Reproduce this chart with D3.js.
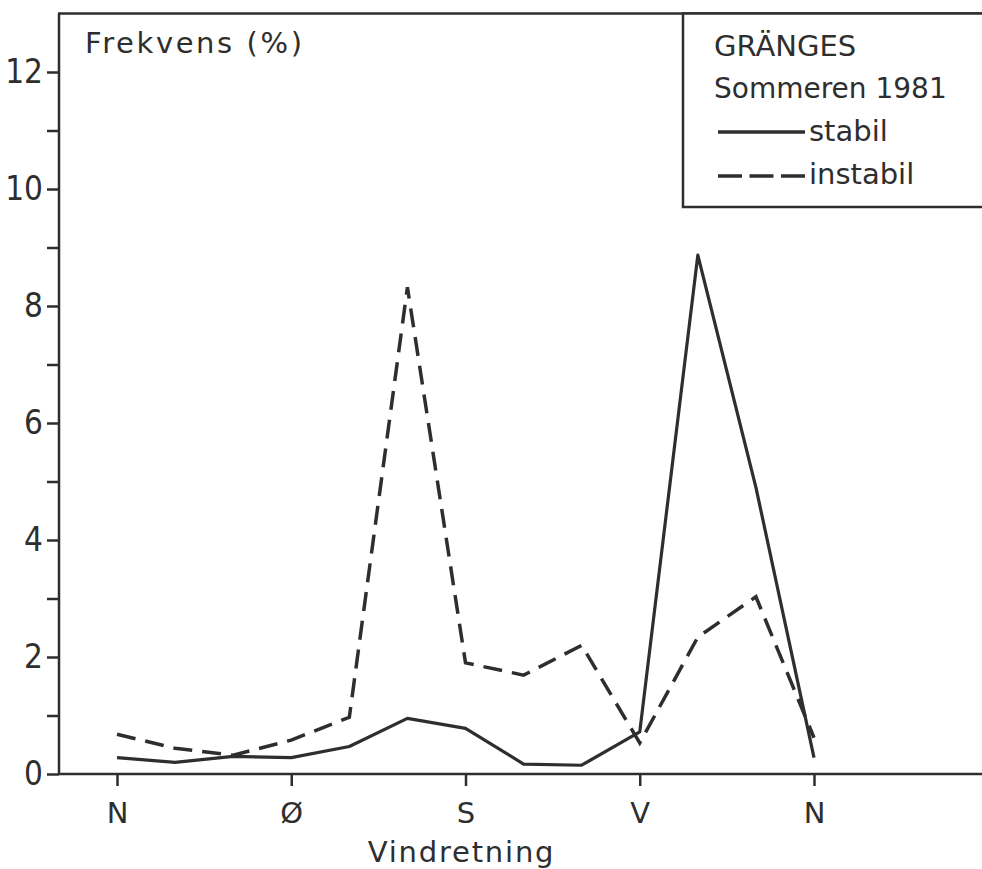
<!DOCTYPE html>
<meta charset="utf-8">
<style>
body { margin: 0; background: #fff; }
text { font-family: "DejaVu Sans", sans-serif; fill: #2e2e2e; }
</style>
<body>
<script src="https://cdn.jsdelivr.net/npm/d3@7"></script>
<script>
// retning i grader, N = 0 og 360
var retning = [0, 30, 60, 90, 120, 150, 180, 210, 240, 270, 300, 330, 360];
var stabil = [0.28, 0.2, 0.3, 0.28, 0.47, 0.95, 0.78, 0.17, 0.15, 0.72, 8.87, 4.9, 0.28];
var instabil = [0.68, 0.44, 0.32, 0.58, 0.97, 8.32, 1.9, 1.69, 2.2, 0.53, 2.34, 3.03, 0.62];
var xTicks = [0, 90, 180, 270, 360];
var xLabels = ["N", "Ø", "S", "V", "N"];
var yTicks = [0, 1, 2, 3, 4, 5, 6, 7, 8, 9, 10, 11, 12];
var yLabels = ["0", "", "2", "", "4", "", "6", "", "8", "", "10", "", "12"];

var width = 982, height = 869;
var ink = "#2e2e2e";
var svg = d3.select("body").append("svg")
    .attr("width", width)
    .attr("height", height);

var x = d3.scaleLinear().domain([0, 360]).range([117, 814]);
var y = d3.scaleLinear().domain([0, 13]).range([774, 13.5]);
var left = 59, right = 982;

// ramme
svg.append("line").attr("x1", left).attr("x2", right)
    .attr("y1", y(0)).attr("y2", y(0))
    .attr("stroke", ink).attr("stroke-width", 2.5);
svg.append("line").attr("x1", left).attr("x2", left)
    .attr("y1", y(0)).attr("y2", y(13))
    .attr("stroke", ink).attr("stroke-width", 2.5);
svg.append("line").attr("x1", left - 1).attr("x2", right)
    .attr("y1", y(13)).attr("y2", y(13))
    .attr("stroke", ink).attr("stroke-width", 2.5);

// y-akse
var yAxis = svg.append("g")
    .attr("transform", "translate(" + left + ",0)")
    .call(d3.axisLeft(y).tickValues(yTicks).tickSize(12).tickPadding(4)
      .tickFormat(function(d, i) { return yLabels[i]; }));
yAxis.select(".domain").remove();
yAxis.selectAll(".tick line").attr("stroke", ink).attr("stroke-width", 2.5);
yAxis.selectAll(".tick text")
    .style("font-family", "'DejaVu Sans Condensed', 'DejaVu Sans', sans-serif")
    .style("font-size", "33px").attr("fill", ink);

// x-akse
var xAxis = svg.append("g")
    .attr("transform", "translate(0," + y(0) + ")")
    .call(d3.axisBottom(x).tickValues(xTicks).tickSize(12).tickPadding(16)
      .tickFormat(function(d, i) { return xLabels[i]; }));
xAxis.select(".domain").remove();
xAxis.selectAll(".tick line").attr("stroke", ink).attr("stroke-width", 2.5);
xAxis.selectAll(".tick text").style("font-size", "29px").attr("fill", ink);

svg.append("text")
    .attr("x", x(180) - 4).attr("y", 862)
    .attr("text-anchor", "middle")
    .style("font-size", "29px")
    .style("letter-spacing", "1.8px")
    .text("Vindretning");

svg.append("text")
    .attr("x", 85).attr("y", 53)
    .style("font-size", "29px")
    .style("letter-spacing", "2.6px")
    .text("Frekvens (%)");

// kurver
var line = d3.line()
    .x(function(d) { return x(d[0]); })
    .y(function(d) { return y(d[1]); });

svg.append("path")
    .datum(d3.zip(retning, instabil))
    .attr("d", line)
    .attr("fill", "none")
    .attr("stroke", ink)
    .attr("stroke-width", 3.5)
    .attr("stroke-dasharray", "19,10");

svg.append("path")
    .datum(d3.zip(retning, stabil))
    .attr("d", line)
    .attr("fill", "none")
    .attr("stroke", ink)
    .attr("stroke-width", 3.2)
    .attr("stroke-linejoin", "round");

// forklaring
var lg = svg.append("g");
lg.append("rect")
    .attr("x", 683).attr("y", y(13))
    .attr("width", 320).attr("height", 207 - y(13))
    .attr("fill", "#fff").attr("stroke", ink).attr("stroke-width", 2.5);
lg.append("text").attr("x", 714).attr("y", 56).style("font-size", "29px").text("GRÄNGES");
lg.append("text").attr("x", 714).attr("y", 98).style("font-size", "28px").text("Sommeren 1981");
lg.append("line").attr("x1", 718).attr("x2", 805).attr("y1", 132).attr("y2", 132)
    .attr("stroke", ink).attr("stroke-width", 3.5);
lg.append("text").attr("x", 809).attr("y", 141).style("font-size", "29px").text("stabil");
lg.append("line").attr("x1", 718).attr("x2", 805).attr("y1", 176).attr("y2", 176)
    .attr("stroke", ink).attr("stroke-width", 3.5).attr("stroke-dasharray", "24,7.5");
lg.append("text").attr("x", 809).attr("y", 184).style("font-size", "29px").text("instabil");
</script>
</body>
